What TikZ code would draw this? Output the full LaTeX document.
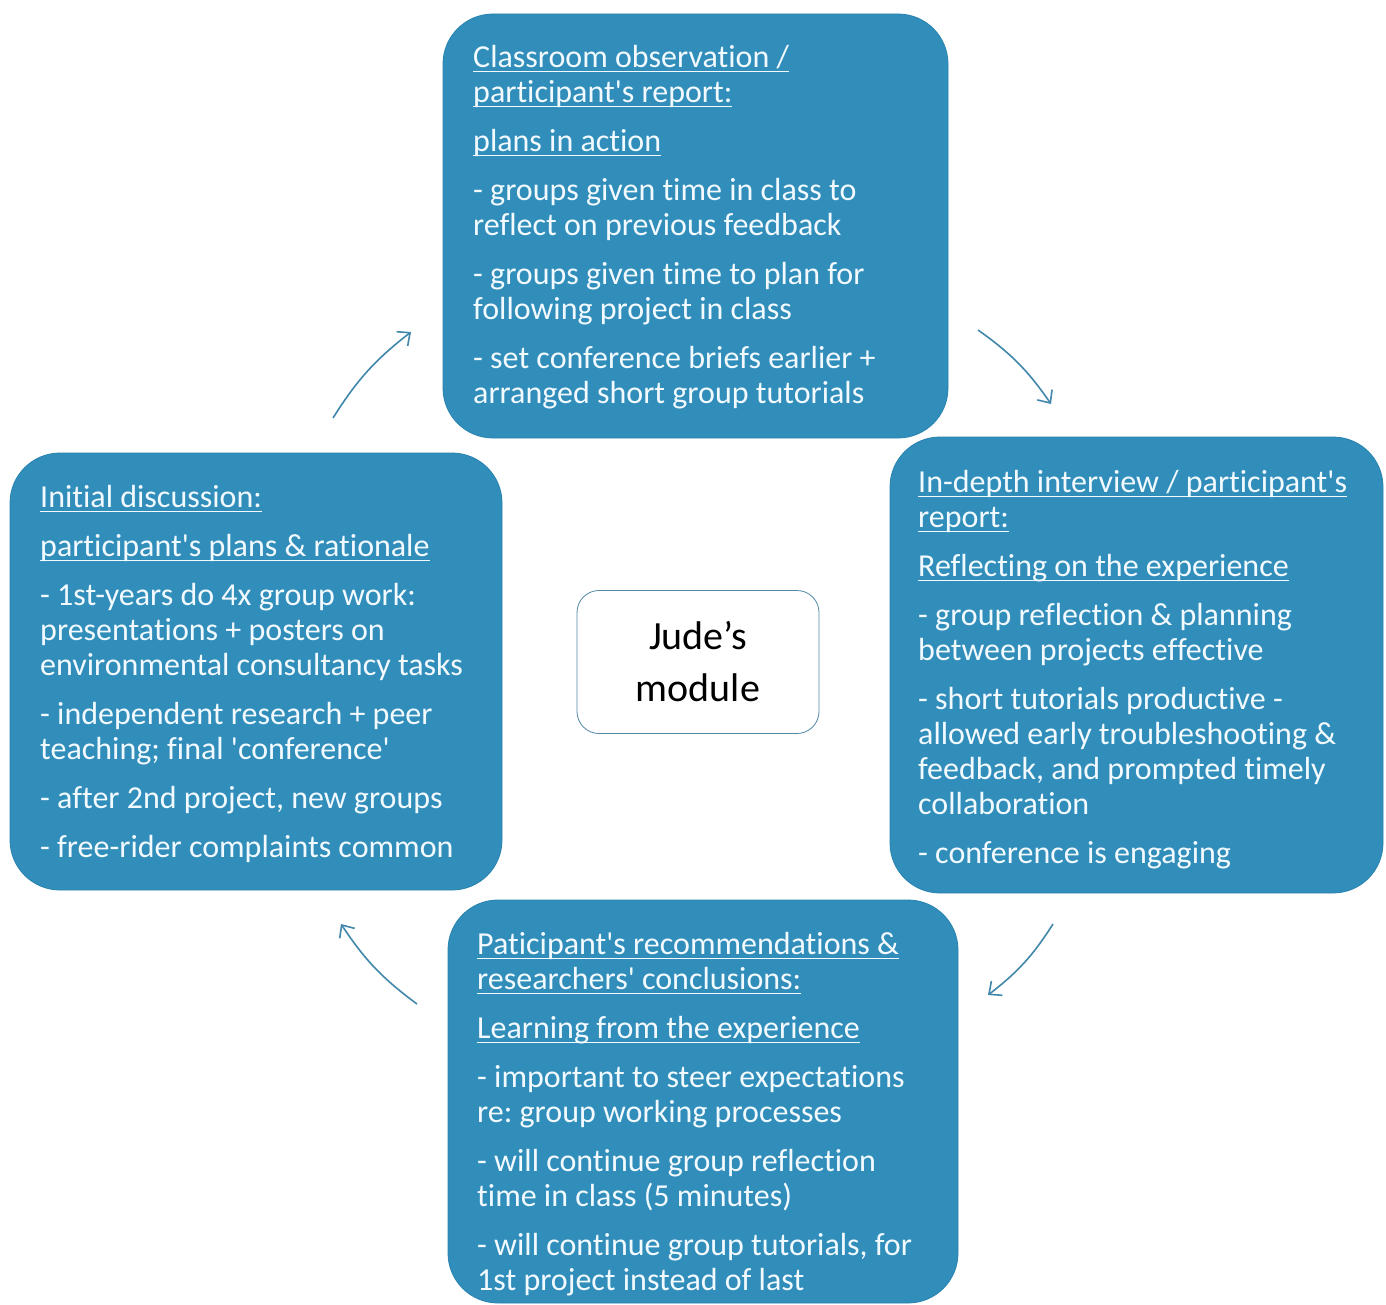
\documentclass[tikz,border=0pt]{standalone}
\usepackage{fontspec}
\newfontfamily\cf[Ligatures=NoCommon]{Carlito}
\usetikzlibrary{arrows.meta}
\definecolor{boxblue}{RGB}{49,142,186}
\definecolor{boxborder}{RGB}{40,130,175}
\definecolor{arrowblue}{RGB}{65,135,172}
\definecolor{centreborder}{RGB}{80,135,165}
\definecolor{txtwhite}{RGB}{242,250,255}
\newcommand\myul[1]{\setbox0\hbox{#1}\rlap{\color{txtwhite}\rule[-5pt]{\wd0}{1.6pt}}\box0}
\tikzset{
  bigbox/.style={draw=boxborder, line width=0.8pt, fill=boxblue, rounded corners=50pt, inner sep=0pt},
  txt/.style={anchor=north west, inner sep=0pt, align=left, text=txtwhite, font=\cf\fontsize{32}{35}\selectfont\frenchspacing},
  cyclearrow/.style={draw=arrowblue, line width=1.6pt, -{Straight Barb[length=10pt,width=18pt,line width=1.6pt]}},
}
\begin{document}
\begin{tikzpicture}[x=1pt,y=-1pt]
\useasboundingbox (0,0) rectangle (1386,1305);
\fill[white] (0,0) rectangle (1386,1305);
% boxes
\node[bigbox, minimum width=505pt, minimum height=424pt] (top) at (695.5,226) {};
\node[bigbox, minimum width=493pt, minimum height=456pt] (right) at (1136.5,665) {};
\node[bigbox, minimum width=510pt, minimum height=403pt] (bottom) at (703,1101.5) {};
\node[bigbox, minimum width=492pt, minimum height=437pt] (left) at (256,671.5) {};
\node[draw=centreborder, line width=0.8pt, fill=white, rounded corners=22pt, minimum width=242pt, minimum height=143pt, align=center, font=\cf\fontsize{40}{52}\selectfont, text=black] (centre) at (698,662) {Jude’s\\module};
% texts
\node[txt] (toptext) at (473,45) {\myul{Classroom observation /}\\
\myul{participant's report:}\\[14pt]
\myul{plans in action}\\[14pt]
- groups given time in class to\\
reflect on previous feedback\\[14pt]
- groups given time to plan for\\
following project in class\\[14pt]
- set conference briefs earlier +\\
arranged short group tutorials};
\node[txt] (righttext) at (918,470) {\myul{In-depth interview / participant's}\\
\myul{report:}\\[14pt]
\myul{Reflecting on the experience}\\[14pt]
- group reflection \& planning\\
between projects effective\\[14pt]
- short tutorials productive -\\
allowed early troubleshooting \&\\
feedback, and prompted timely\\
collaboration\\[14pt]
- conference is engaging};
\node[txt] (lefttext) at (40,485) {\myul{Initial discussion:}\\[14pt]
\myul{participant's plans \& rationale}\\[14pt]
- 1st-years do 4x group work:\\
presentations + posters on\\
environmental consultancy tasks\\[14pt]
- independent research + peer\\
teaching; final 'conference'\\[14pt]
- after 2nd project, new groups\\[14pt]
- free-rider complaints common};
\node[txt] (bottomtext) at (477,932) {\myul{Paticipant's recommendations \&}\\
\myul{researchers' conclusions:}\\[14pt]
\myul{Learning from the experience}\\[14pt]
- important to steer expectations\\
re: group working processes\\[14pt]
- will continue group reflection\\
time in class (5 minutes)\\[14pt]
- will continue group tutorials, for\\
1st project instead of last};
% arrows
\coordinate (a1s) at (333,418); \coordinate (a1e) at (411,332);
\coordinate (a2s) at (978,330); \coordinate (a2e) at (1051,404);
\coordinate (a3s) at (1053,924); \coordinate (a3e) at (988,995);
\coordinate (a4s) at (417,1004); \coordinate (a4e) at (341,924);
\draw[cyclearrow] (a1s) to[bend left=10] (a1e);
\draw[cyclearrow] (a2s) to[bend left=10] (a2e);
\draw[cyclearrow] (a3s) to[bend left=10] (a3e);
\draw[cyclearrow] (a4s) to[bend left=10] (a4e);
\end{tikzpicture}
\end{document}
